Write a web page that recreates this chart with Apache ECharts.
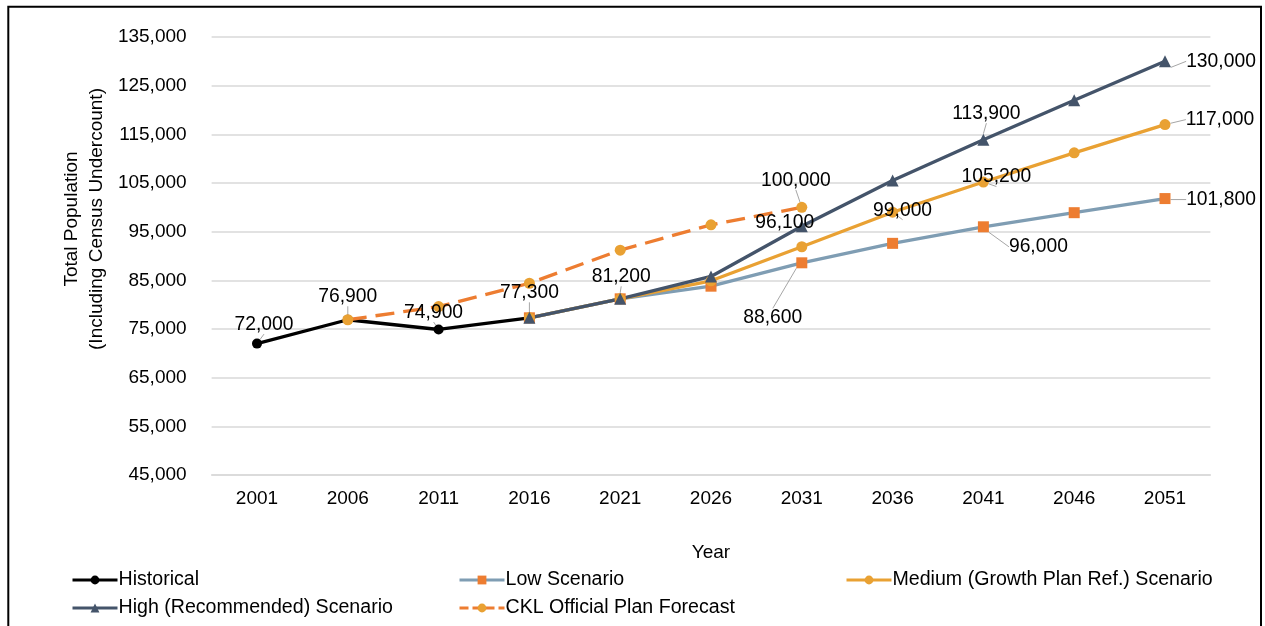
<!DOCTYPE html>
<html>
<head>
<meta charset="utf-8">
<script src="https://cdn.jsdelivr.net/npm/echarts@6/dist/echarts.min.js"></script>
<style>
html,body{margin:0;padding:0;background:#fff;}
#c{width:1265px;height:626px;}
</style>
</head>
<body>
<div id="c"></div>
<script>
// ---- data ----
const years = ['2001','2006','2011','2016','2021','2026','2031','2036','2041','2046','2051'];
const historical = [72000, 76900, 74900, 77300, null, null, null, null, null, null, null];
const lowScenario = [null, null, null, 77300, 81200, 83800, 88600, 92600, 96000, 98900, 101800];
const mediumScenario = [null, null, null, 77300, 81200, 84900, 91900, 99000, 105200, 111200, 117000];
const highScenario = [null, null, null, 77300, 81200, 85800, 96100, 105500, 113900, 122000, 130000];
const cklForecast = [null, 76900, 79600, 84400, 91200, 96400, 100000, null, null, null, null];
const yTicks = [45000, 55000, 65000, 75000, 85000, 95000, 105000, 115000, 125000, 135000];

// ---- label placement (offsets of label centre from point, px) ----
const labelOffsets = {
  'Historical': {0: [7, -19], 1: [0, -23], 2: [-5, -17], 3: [0, -25]},
  'Low Scenario': {6: [-29, 55], 8: [55, 20], 10: [56, 1]},
  'Medium (Growth Plan Ref.) Scenario': {7: [10, -2], 8: [13, -5], 10: [55, -5]},
  'High (Recommended) Scenario': {4: [1, -22], 6: [-17, -4], 8: [3, -26], 10: [56, 0]},
  'CKL Official Plan Forecast': {6: [-6, -27]}
};

const FONT = '"Liberation Sans", Arial, sans-serif';
const FS = 19;
const FS_LABEL = 19.3;
const FS_LEGEND = 19.6;
const fmt = v => Number(v).toLocaleString('en-US');

function buildData(name, arr) {
  const offs = labelOffsets[name] || {};
  return arr.map((v, i) => {
    if (offs[i] !== undefined && v !== null) {
      return {value: v, label: {show: true}};
    }
    return v;
  });
}

function mkSeries(name, arr, opts) {
  const offs = labelOffsets[name] || {};
  return Object.assign({
    name: name,
    type: 'line',
    data: buildData(name, arr),
    connectNulls: false,
    label: {
      show: false, position: 'inside',
      formatter: p => fmt(p.value),
      fontFamily: FONT, fontSize: FS_LABEL, color: '#000'
    },
    labelLine: {show: true, lineStyle: {color: '#a6a6a6', width: 1}},
    labelLayout: function (p) {
      const o = offs[p.dataIndex];
      if (!o) return {};
      return {dx: o[0], dy: o[1]};
    },
    emphasis: {disabled: true}
  }, opts);
}

const LW = 3.3;
const series = [
  mkSeries('Historical', historical, {
    symbol: 'circle', symbolSize: 10,
    lineStyle: {color: '#000000', width: LW},
    itemStyle: {color: '#000000'}
  }),
  mkSeries('Low Scenario', lowScenario, {
    symbol: 'rect', symbolSize: 11,
    lineStyle: {color: '#7f9db3', width: LW},
    itemStyle: {color: '#ed7d31'}
  }),
  mkSeries('Medium (Growth Plan Ref.) Scenario', mediumScenario, {
    symbol: 'circle', symbolSize: 11,
    lineStyle: {color: '#e9a133', width: LW},
    itemStyle: {color: '#e9a133'}
  }),
  mkSeries('High (Recommended) Scenario', highScenario, {
    symbol: 'triangle', symbolSize: 12,
    lineStyle: {color: '#44546a', width: LW},
    itemStyle: {color: '#44546a'}
  }),
  mkSeries('CKL Official Plan Forecast', cklForecast, {
    symbol: 'circle', symbolSize: 11,
    lineStyle: {color: '#ed7d31', width: LW, type: [19, 9]},
    itemStyle: {color: '#e9a133'}
  })
];

function legendAt(name, left, top, dash) {
  return {
    data: [name], left: left, top: top, orient: 'horizontal',
    itemWidth: 45, itemHeight: 11, itemGap: 0, padding: 0,
    lineStyle: dash ? {width: 3, type: [9, 4]} : {width: 3},
    textStyle: {fontFamily: FONT, fontSize: FS_LEGEND, color: '#000', padding: [0, 0, 0, -4]},
    selectedMode: false
  };
}

const chart = echarts.init(document.getElementById('c'), null, {renderer: 'canvas'});
chart.setOption({
  backgroundColor: '#ffffff',
  animation: false,
  grid: {left: 211.6, right: 54.6, top: 37, bottom: 151, containLabel: false},
  xAxis: {
    type: 'category', data: years, boundaryGap: true,
    axisLine: {show: true, lineStyle: {color: '#d9d9d9', width: 1.5}},
    axisTick: {show: false},
    axisLabel: {fontFamily: FONT, fontSize: FS, color: '#000', margin: 14},
    name: 'Year', nameLocation: 'middle', nameGap: 68,
    nameTextStyle: {fontFamily: FONT, fontSize: FS, color: '#000'}
  },
  yAxis: {
    type: 'value', min: 45000, max: 135000, interval: 5000,
    axisLine: {show: false}, axisTick: {show: false},
    splitLine: {show: true, lineStyle: {color: ['#d9d9d9', 'rgba(0,0,0,0)'], width: 1.5}},
    axisLabel: {
      fontFamily: FONT, fontSize: FS, color: '#000', margin: 25,
      formatter: v => (yTicks.indexOf(v) >= 0 ? fmt(v) : '')
    }
  },
  legend: [
    legendAt('Historical', 71, 570),
    legendAt('Low Scenario', 458, 570),
    legendAt('Medium (Growth Plan Ref.) Scenario', 845, 570),
    legendAt('High (Recommended) Scenario', 71, 598),
    legendAt('CKL Official Plan Forecast', 458, 598, true)
  ],
  graphic: [
    {
      type: 'rect', silent: true, z: 100,
      shape: {x: 8.3, y: 6.7, width: 1252.7, height: 640},
      style: {fill: 'none', stroke: '#000', lineWidth: 2}
    },
    {
      type: 'text', silent: true, x: 84, y: 219, rotation: Math.PI / 2,
      style: {
        text: 'Total Population\n(Including Census Undercount)',
        font: FS + 'px ' + FONT, fill: '#000',
        align: 'center', verticalAlign: 'middle', lineHeight: 25
      }
    }
  ],
  series: series
});
</script>
</body>
</html>
